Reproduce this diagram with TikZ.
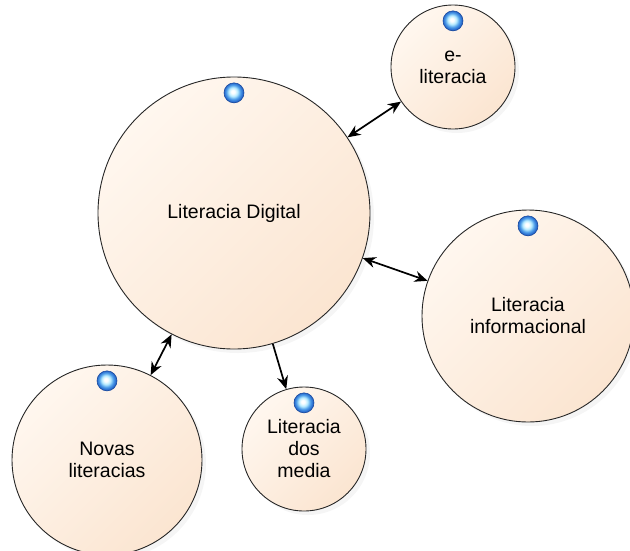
\documentclass[tikz,border=0pt]{standalone}
\usepackage{fontspec}
\setmainfont{Liberation Sans}
\usetikzlibrary{positioning, arrows.meta, shadows}

\definecolor{peachlight}{HTML}{FFF7EF}
\definecolor{peachdark}{HTML}{FBE5D1}
\definecolor{knobblue}{HTML}{1F5CC4}
\definecolor{knobmid}{HTML}{4A9AE8}
\definecolor{knoblight}{HTML}{B8ECFF}

\pgfdeclareradialshading{knobshade}{\pgfpoint{-3bp}{3bp}}{%
  color(0bp)=(white); color(4bp)=(white); color(11bp)=(knoblight);
  color(18bp)=(knobmid); color(25bp)=(knobblue); color(50bp)=(knobblue)}

\tikzset{
  bubble/.style={circle, draw=black!85, line width=0.9pt, inner sep=0pt, align=center,
    top color=peachlight, bottom color=peachdark, shading angle=45,
    drop shadow={shadow xshift=4pt, shadow yshift=-4pt, opacity=0.08},
    font=\fontsize{19.5}{22}\selectfont},
  knob/.style={circle, minimum size=20pt, inner sep=0pt, draw=knobblue!80!black, line width=0.6pt,
    shading=knobshade},
  link/.style={line width=1.7pt, -{Stealth[length=13pt,width=11pt]}},
  twoway/.style={line width=1.7pt, {Stealth[length=13pt,width=11pt]}-{Stealth[length=13pt,width=11pt]}}
}

\begin{document}
\begin{tikzpicture}[x=1pt, y=-1pt]
  \useasboundingbox (0,0) rectangle (630,550);
  \clip (0,0) rectangle (630,550);
  % circles
  \node[bubble, minimum size=272pt] (digital) at (234,213) {Literacia Digital};
  \node[bubble, minimum size=124pt] (elit) at (453,67) {e-\\literacia};
  \node[bubble, minimum size=212pt] (info) at (528,316) {Literacia\\informacional};
  \node[bubble, minimum size=190pt] (novas) at (107,460) {Novas\\literacias};
  \node[bubble, minimum size=124pt] (media) at (304,449) {Literacia\\dos\\media};
  % knobs on top
  \foreach \n in {digital, elit, info, novas, media}
    \node[knob, below=6pt of \n.north] (knob-\n) {};
  % links
  \draw[twoway] (digital) -- (elit);
  \draw[twoway] (digital) -- (info);
  \draw[twoway] (digital) -- (novas);
  \draw[link] (digital) -- (media);
\end{tikzpicture}
\end{document}
